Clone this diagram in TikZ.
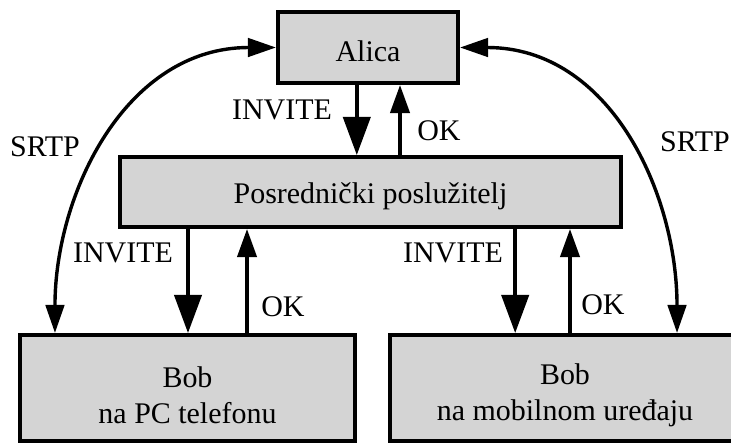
\documentclass[tikz,border=0pt]{standalone}
\usepackage{fontspec}
\setmainfont{Liberation Serif}
\usetikzlibrary{arrows.meta}
\definecolor{boxgray}{RGB}{212,212,212}
\newcommand\boxstrut[1]{\rule{0pt}{#1em}}

\begin{document}
\begin{tikzpicture}[x=0.025cm,y=-0.025cm,
  font=\fontsize{21.3}{25.6}\selectfont,
  box/.style={draw,fill=boxgray,line width=0.1cm,inner sep=0pt,align=center},
  msg/.style={line width=0.085cm,-{Triangle[length=0.95cm,width=0.68cm]}},
  ack/.style={line width=0.085cm,-{Triangle[length=0.7cm,width=0.48cm]}},
  srtp/.style={line width=0.085cm,{Triangle[length=0.7cm,width=0.46cm]}-{Triangle[length=0.7cm,width=0.46cm]}},
  lbl/.style={inner sep=0pt}]
\clip (0,0) rectangle (731,443);
% boxes
\node[box,minimum width=4.5cm,minimum height=1.775cm] (alica) at (368,47.5) {\boxstrut{0.95}Alica};
\node[box,minimum width=12.525cm,minimum height=1.75cm] (proxy) at (370.5,192) {\boxstrut{0.95}Posrednički poslužitelj};
\node[box,minimum width=8.375cm,minimum height=2.65cm] (bobpc) at (187.5,388) {\boxstrut{1.15}Bob\\na PC telefonu};
\node[box,minimum width=8.75cm,minimum height=2.65cm] (bobmob) at (565,388) {\boxstrut{1.15}Bob\\na mobilnom uređaju};
% signalling
\draw[msg] ([xshift=-0.28cm]alica.south) -- ([xshift=-0.28cm]alica.south |- proxy.north);
\draw[ack] ([xshift=0.8cm]alica.south |- proxy.north) -- ([xshift=0.8cm]alica.south);
\draw[msg] ([xshift=4.25cm]bobpc.north west |- proxy.south) -- ([xshift=4.25cm]bobpc.north west);
\draw[ack] ([xshift=5.725cm]bobpc.north west) -- ([xshift=5.725cm]bobpc.north west |- proxy.south);
\draw[msg] ([xshift=3.18cm]bobmob.north west |- proxy.south) -- ([xshift=3.18cm]bobmob.north west);
\draw[ack] ([xshift=4.55cm]bobmob.north west) -- ([xshift=4.55cm]bobmob.north west |- proxy.south);
% media
\coordinate (srtpL) at ([xshift=0.925cm]bobpc.north west);
\coordinate (srtpR) at ([xshift=7.225cm]bobmob.north west);
\draw[srtp] (alica.west) .. controls +(-150,0) and +(0,-140) .. (srtpL);
\draw[srtp] (alica.east) .. controls +(150,0) and +(0,-140) .. (srtpR);
% labels
\node[lbl] (invA) at (282,110) {INVITE};
\node[lbl] (okA) at (439,131) {OK};
\node[lbl] (invB) at (123,253) {INVITE};
\node[lbl] (okB) at (283,307) {OK};
\node[lbl] (invC) at (453,253) {INVITE};
\node[lbl] (okC) at (603,305) {OK};
\node[lbl] (srtpA) at (45,147) {SRTP};
\node[lbl] (srtpB) at (695,142) {SRTP};
\end{tikzpicture}
\end{document}
